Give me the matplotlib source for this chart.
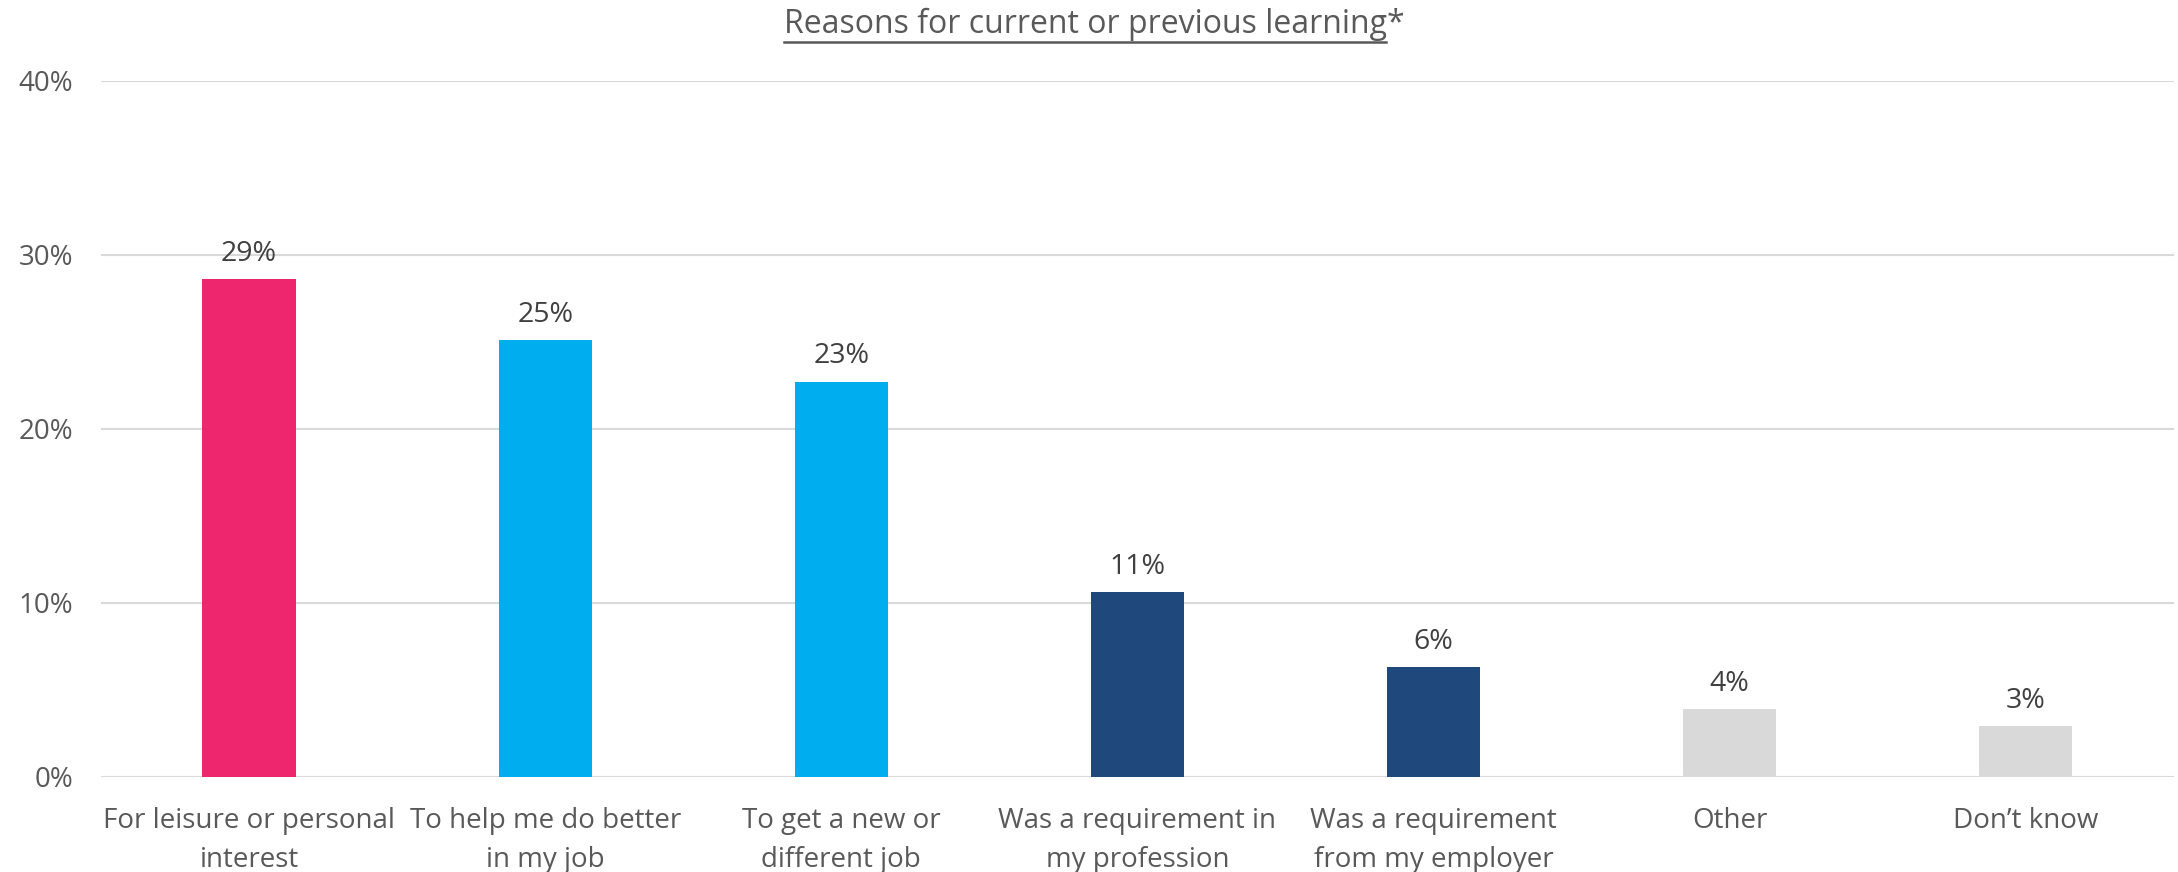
import matplotlib.pyplot as plt
from matplotlib.lines import Line2D

categories = ["For leisure or personal\ninterest", "To help me do better\nin my job",
              "To get a new or\ndifferent job", "Was a requirement in\nmy profession",
              "Was a requirement\nfrom my employer", "Other", "Don\u2019t know"]
values = [28.6, 25.1, 22.7, 10.6, 6.3, 3.9, 2.9]
colors = ["#EE266D", "#00AEEF", "#00AEEF", "#1F497D", "#1F497D", "#D9D9D9", "#D9D9D9"]
yticks = [0, 10, 20, 30, 40]

plt.rcParams['font.family'] = ['Open Sans', 'DejaVu Sans']

fig = plt.figure(figsize=(21.78, 8.72), dpi=100)
ax = fig.add_axes([101 / 2178, 1 - 776.5 / 872, 1 - 101 / 2178 - 0.002, (776.5 - 80.6) / 872])

x = range(len(categories))
bars = ax.bar(x, values, width=0.315, color=colors, zorder=3)
for b, v in zip(bars, values):
    ax.annotate(f"{v:.0f}%", (b.get_x() + b.get_width() / 2, v), xytext=(0, 8),
                textcoords="offset points", ha="center", va="bottom",
                fontsize=20.5, color="#404040")

ax.set_xlim(-0.5, len(categories) - 0.5)
ax.set_ylim(0, 40)
ax.set_yticks(yticks)
ax.set_yticklabels([f"{t}%" for t in yticks])
ax.set_xticks(list(x))
ax.set_xticklabels(categories, linespacing=1.5)
ax.tick_params(axis="both", length=0, labelsize=20, labelcolor="#595959")
ax.tick_params(axis="x", pad=22)
ax.tick_params(axis="y", pad=20)
ax.yaxis.grid(True, color="#D9D9D9", linewidth=1.5, zorder=0)
for s in ax.spines.values():
    s.set_visible(False)

# title with underline (asterisk not underlined)
t = fig.text(1085 / 2178, 1 - 24 / 872, "Reasons for current or previous learning",
             ha="center", va="center", fontsize=23, color="#595959")
fig.canvas.draw()
bb = t.get_window_extent()
fig.text(bb.x1 / fig.bbox.width, 1 - 24 / 872, "*", ha="left", va="center",
         fontsize=23, color="#595959")
yline = (bb.y0 - 1) / fig.bbox.height
fig.add_artist(Line2D([bb.x0 / fig.bbox.width, bb.x1 / fig.bbox.width], [yline, yline],
                      transform=fig.transFigure, color="#595959", linewidth=1.8))

fig.savefig("out.png", dpi=100)
